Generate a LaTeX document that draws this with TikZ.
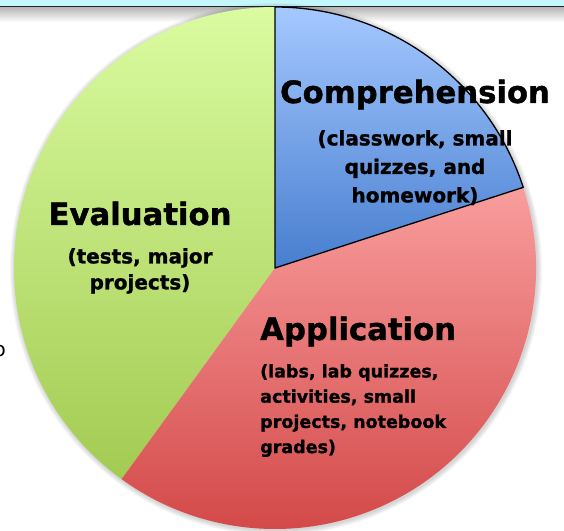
\documentclass[tikz,border=0pt]{standalone}
\usepackage{fontspec}
\setmainfont{DejaVu Sans}
\newfontfamily\gras[UprightFont=* Bold,FakeBold=1.2]{DejaVu Sans}
\definecolor{bandeau}{HTML}{C4F7FB}
\definecolor{vertHaut}{HTML}{DAFBA0}
\definecolor{vertBas}{HTML}{A3CB52}
\definecolor{rougeHaut}{HTML}{F99D9D}
\definecolor{rougeBas}{HTML}{D24646}
\definecolor{bleuHaut}{HTML}{A5C8FF}
\definecolor{bleuBas}{HTML}{477ECF}
\begin{document}
\begin{tikzpicture}[x=1pt,y=1pt]
			\tikzstyle{titre}=[font=\fontsize{30.7}{36}\selectfont\gras,inner sep=0pt]
			\tikzstyle{detail}=[font=\fontsize{20}{28.5}\selectfont\gras,inner sep=0pt,align=center]
			\tikzstyle{petit}=[font=\fontsize{17.5}{25.2}\selectfont\gras,inner sep=0pt,align=left]
			\tikzstyle{bord}=[draw=black,line width=1.3pt,line join=round]
			
			\def\Rayon{261}
			\def\CentreX{275}
			\def\CentreY{262}
			
			\useasboundingbox (0,0) rectangle (564,530);
			
			% bandeau du haut
			\fill[bandeau] (0,523.5) rectangle (564,530);
			\shade[top color=black!30,bottom color=white] (0,508) rectangle (564,523.5);
			\draw[line width=1.5pt,black!85] (0,523.5) -- (564,523.5);
			
			% ombre
			\foreach \i in {1,...,5} \fill[black,opacity=0.035] (\CentreX+1,\CentreY-1) circle (\Rayon+\i);
			
			% parts
			\coordinate (O) at (\CentreX,\CentreY);
			\shade[top color=vertHaut,bottom color=vertBas] (O) -- ++(-126:\Rayon) arc[start angle=-126,end angle=-270,radius=\Rayon] -- cycle;
			\shade[top color=rougeHaut,bottom color=rougeBas] (O) -- ++(18:\Rayon) arc[start angle=18,end angle=-126,radius=\Rayon] -- cycle;
			\shade[top color=bleuHaut,bottom color=bleuBas] (O) -- ++(90:\Rayon) arc[start angle=90,end angle=18,radius=\Rayon] -- cycle;
			\draw[bord] (O) -- ++(90:\Rayon) arc[start angle=90,end angle=18,radius=\Rayon] -- cycle;
			
			% textes
			\node[titre,anchor=base] (Comp) at (415,427) {Comprehension};
			\node[detail,anchor=north] (CompD) at (415,400) {(classwork, small\\quizzes, and\\homework)};
			\node[titre,anchor=base] (Eval) at (140,305) {Evaluation};
			\node[detail,anchor=north,font=\fontsize{20}{26}\selectfont\gras] (EvalD) at (140,282) {(tests, major\\projects)};
			\node[titre,anchor=base west] (Appl) at (260,190) {Application};
			\node[petit,anchor=north west] (ApplD) at (260,166) {(labs, lab quizzes,\\activities, small\\projects, notebook\\grades)};
			
			\node[anchor=base east,font=\fontsize{20}{24}\selectfont,inner sep=0pt] (coupe) at (6,173) {o};
		\end{tikzpicture}
\end{document}
